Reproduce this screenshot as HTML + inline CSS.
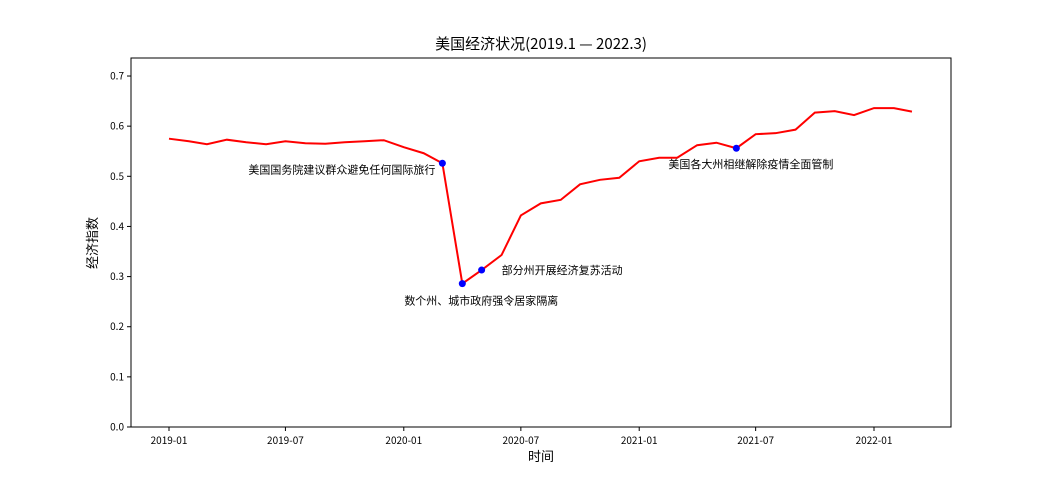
<!DOCTYPE html>
<html><head><meta charset="utf-8"><style>
body{margin:0;background:#fff}
svg text{font-family:"WenQuanYi Zen Hei","Noto Sans CJK SC",sans-serif}
</style></head><body>
<svg id="chart" width="1056" height="480" viewBox="0 0 1056 480" xmlns="http://www.w3.org/2000/svg">
<rect width="1056" height="480" fill="#fff"/>
<text x="541" y="49" font-size="15" text-anchor="middle">美国经济状况(2019.1 — 2022.3)</text>
<rect x="131" y="58" width="820" height="369" fill="none" stroke="#000" stroke-width="1"/>
<g id="yticks"></g><g id="xticks"></g>
<text transform="translate(97,243) rotate(-90)" font-size="13" text-anchor="middle">经济指数</text>
<text x="541" y="461" font-size="13" text-anchor="middle">时间</text>
<g id="series"></g>
</svg>
<script>
const months=["2019-01","2019-02","2019-03","2019-04","2019-05","2019-06","2019-07","2019-08","2019-09","2019-10","2019-11","2019-12","2020-01","2020-02","2020-03","2020-04","2020-05","2020-06","2020-07","2020-08","2020-09","2020-10","2020-11","2020-12","2021-01","2021-02","2021-03","2021-04","2021-05","2021-06","2021-07","2021-08","2021-09","2021-10","2021-11","2021-12","2022-01","2022-02","2022-03"];
const values=[0.575,0.570,0.564,0.573,0.568,0.564,0.570,0.566,0.565,0.568,0.570,0.572,0.558,0.546,0.526,0.286,0.313,0.343,0.422,0.446,0.453,0.484,0.493,0.497,0.530,0.537,0.537,0.562,0.567,0.556,0.584,0.586,0.593,0.627,0.630,0.622,0.636,0.636,0.629];
const yTicks=[0,0.1,0.2,0.3,0.4,0.5,0.6,0.7];
const xTickLabels=["2019-01","2019-07","2020-01","2020-07","2021-01","2021-07","2022-01"];
const annMonths=["2020-03","2020-04","2020-05","2021-06"];
const annTexts=["美国国务院建议群众避免任何国际旅行","数个州、城市政府强令居家隔离","部分州开展经济复苏活动","美国各大州相继解除疫情全面管制"];
const NS="http://www.w3.org/2000/svg";
const t0=Date.UTC(2019,0,1);
function days(m){const [y,mo]=m.split("-").map(Number);return (Date.UTC(y,mo-1,1)-t0)/86400000;}
function X(m){return 169+days(m)*(705/1096);}
function Y(v){return 427-v*501.4;}
function mk(tag,attrs,parent){const e=document.createElementNS(NS,tag);for(const k in attrs)e.setAttribute(k,attrs[k]);parent.appendChild(e);return e;}
const yg=document.getElementById("yticks"),xg=document.getElementById("xticks"),sg=document.getElementById("series");
yTicks.forEach(v=>{
 const l=mk("line",{x1:127,x2:131,y1:Y(v),y2:Y(v),stroke:"#000"},yg);
 
 
 const t=mk("text",{x:124,y:Y(v)+3.5,"font-size":10,"text-anchor":"end"},yg);
 
 
 t.textContent=v.toFixed(1);
});
xTickLabels.forEach(m=>{
 const l=mk("line",{x1:X(m),x2:X(m),y1:427,y2:431,stroke:"#000"},xg);
 
 
 const t=mk("text",{x:X(m),y:444,"font-size":10,"text-anchor":"middle"},xg);
 
 
 t.textContent=m;
});
const pl=mk("polyline",{points:months.map((m,i)=>X(m)+","+Y(values[i])).join(" "),fill:"none",stroke:"#f00","stroke-width":2},sg);


const offs=[[-7,10,"end"],[-58,21,"start"],[20,4,"start"],[-68,20,"start"]];
annMonths.forEach((m,k)=>{
 const i=months.indexOf(m);const px=X(m),py=Y(values[i]);
 const c=mk("circle",{cx:px,cy:py,r:3.5,fill:"#00f"},sg);
 
 
 const o=offs[k];
 const t=mk("text",{x:px+o[0],y:py+o[1],"font-size":11,"text-anchor":o[2]},sg);
 
 
 t.textContent=annTexts[k];
});
</script>
</body></html>
